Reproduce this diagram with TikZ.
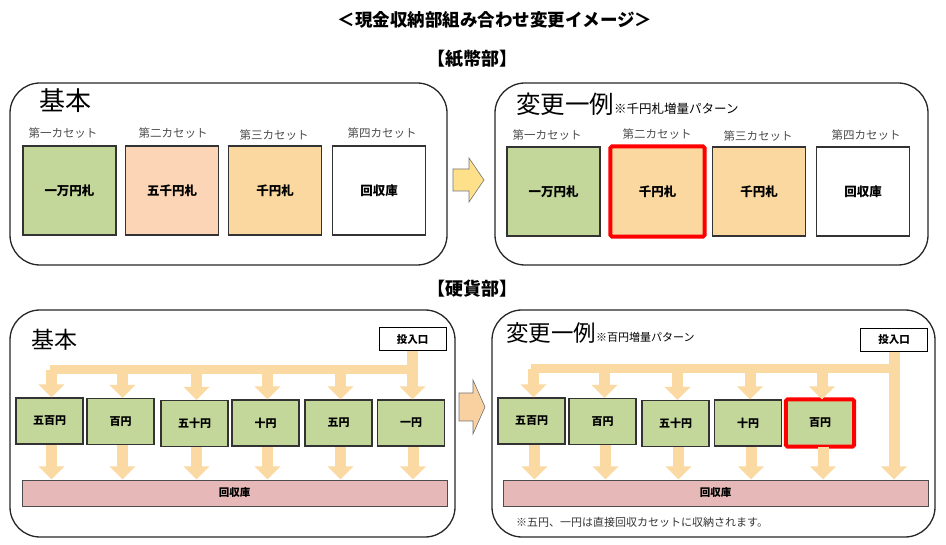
\documentclass[tikz,border=0pt]{standalone}
\usepackage{fontspec}
\setmainfont{Noto Sans CJK JP}
\usetikzlibrary{arrows.meta}
\definecolor{grn}{HTML}{C4D79B}
\definecolor{peach}{HTML}{FBD5B5}
\definecolor{sen}{HTML}{FAD8A0}
\definecolor{pink}{HTML}{E6B8B7}
\definecolor{flowc}{HTML}{FAD9A2}
\definecolor{arrY}{HTML}{FFE08A}
\definecolor{arrO}{HTML}{F9D0A0}
\definecolor{redb}{HTML}{FF0000}
\newcommand{\fs}[1]{\fontsize{#1}{#1}\selectfont}
\begin{document}
\begin{tikzpicture}[x=1pt,y=-1pt,
  panel/.style={draw=black!85, line width=1.3pt, rounded corners=30pt},
  bill/.style={draw=black!80, line width=1.1pt, minimum width=93pt, minimum height=89pt, inner sep=0pt, font=\bfseries\fs{12.5}},
  redbox/.style={draw=redb, line width=4pt, rounded corners=1.5pt},
  slot/.style={font=\fs{11.5}, text=black!70, inner sep=0pt},
  coin/.style={draw=black!80, line width=1.1pt, fill=grn, minimum width=67pt, minimum height=46pt, inner sep=0pt, font=\bfseries\fs{11}},
  inlet/.style={draw=black, line width=1pt, fill=white, minimum width=67pt, minimum height=23pt, inner sep=0pt, font=\bfseries\fs{10.5}},
  coll/.style={draw=black!70, line width=1pt, fill=pink, minimum width=425pt, minimum height=26pt, inner sep=0pt, font=\bfseries\fs{10.5}},
  flow/.style={draw=flowc, line width=11pt, -{Triangle[width=25pt,length=13pt]}},
  trunk/.style={draw=flowc, line width=9pt},
  heading/.style={font=\bfseries\fs{18}, inner sep=0pt}
]
\useasboundingbox (0,0) rectangle (946,545);

% headings
\node[heading, font=\bfseries\fs{17.5}] (title) at (495,20) {＜現金収納部組み合わせ変更イメージ＞};
\node[heading] (shihei) at (472,59) {【紙幣部】};
\node[heading] (kouka) at (472,289) {【硬貨部】};

% ===== bills =====
\draw[panel] (10,83) rectangle (447,265);
\draw[panel] (495,83) rectangle (928,265);

\node[anchor=west, inner sep=0pt, font=\fs{26}] (kihon1) at (39,101) {基本};
\node[slot] (l1) at (63,133) {第一カセット};
\node[slot] (l2) at (173,133) {第二カセット};
\node[slot] (l3) at (274,135) {第三カセット};
\node[slot] (l4) at (382,133) {第四カセット};
\node[bill, fill=grn] (b1) at (69.5,190.5) {一万円札};
\node[bill, fill=peach] (b2) at (172,190.5) {五千円札};
\node[bill, fill=sen] (b3) at (275,190.5) {千円札};
\node[bill, fill=white] (b4) at (379,190.5) {回収庫};

\node[anchor=base west, inner sep=0pt] (henko1) at (516,114) {\fs{24.5}変更一例\fs{12.5}※千円札増量パターン};
\node[slot] (r1) at (547,135) {第一カセット};
\node[slot] (r2) at (657,134) {第二カセット};
\node[slot] (r3) at (758,136) {第三カセット};
\node[slot] (r4) at (866,135) {第四カセット};
\node[bill, fill=grn] (rb1) at (553.5,191.5) {一万円札};
\node[bill, fill=sen, draw=none] (rb2) at (657.5,191.5) {千円札};
\draw[redbox] (rb2.north west) rectangle (rb2.south east);
\node[bill, fill=sen] (rb3) at (759,191.5) {千円札};
\node[bill, fill=white] (rb4) at (863,191.5) {回収庫};

% transition arrow (bills)
\draw[fill=arrY, draw=black!55, line width=0.6pt] (453,169) -- (469,169) -- (469,158) -- (484,180) -- (469,202) -- (469,191) -- (453,191) -- cycle;

% ===== coins =====
\draw[panel] (10,310) rectangle (455,537);
\draw[panel] (492,310) rectangle (935,537);

\node[anchor=west, inner sep=0pt, font=\fs{23}] (kihon2) at (31,340) {基本};
\node[inlet] (inL) at (412.5,339.5) {投入口};
\node[coin] (c1) at (49.5,421) {五百円};
\node[coin] (c2) at (120.5,421.5) {百円};
\node[coin] (c3) at (194.5,423.5) {五十円};
\node[coin] (c4) at (265.5,423) {十円};
\node[coin] (c5) at (338.5,423) {五円};
\node[coin] (c6) at (411,423) {一円};
\node[coll] (rkL) at (234.5,493) {回収庫};

\coordinate (barLa) at (50,370);
\coordinate (barLb) at (418,370);
\draw[trunk] (barLa) -- (barLb);
\draw[flow] (inL.south) -- (inL.south |- c6.north);
\foreach \n in {c1,c2,c3,c4,c5} {
  \draw[flow] ([xshift=2pt]\n.north |- barLa) -- ([xshift=2pt]\n.north);
}
\foreach \n in {c1,c2,c3,c4,c5,c6} {
  \draw[flow] ([xshift=2pt]\n.south) -- ([xshift=2pt]\n.south |- rkL.north);
}

\node[anchor=base west, inner sep=0pt] (henko2) at (506,342) {\fs{22.5}変更一例\fs{11}※百円増量パターン};
\node[inlet] (inR) at (894,340) {投入口};
\node[coin] (d1) at (531.5,421) {五百円};
\node[coin] (d2) at (602.5,421.5) {百円};
\node[coin] (d3) at (675.5,423.5) {五十円};
\node[coin] (d4) at (748,423) {十円};
\node[coin, draw=none] (d5) at (820,423) {百円};
\draw[redbox] (d5.north west) rectangle (d5.south east);
\node[coll] (rkR) at (715.5,493) {回収庫};

\coordinate (barRa) at (531,369);
\coordinate (barRb) at (899,369);
\draw[trunk] (barRa) -- (barRb);
\draw[flow] (inR.south) -- (inR.south |- rkR.north);
\foreach \n in {d1,d2,d3,d4,d5} {
  \draw[flow] ([xshift=2pt]\n.north |- barRa) -- ([xshift=2pt]\n.north);
}
\foreach \n in {d1,d2,d3,d4,d5} {
  \draw[flow] ([xshift=3pt]\n.south) -- ([xshift=3pt]\n.south |- rkR.north);
}
\node[anchor=west, inner sep=0pt, font=\fs{11}, text=black!80] (note) at (516,522) {※五円、一円は直接回収カセットに収納されます。};

% transition arrow (coins)
\draw[fill=arrO, draw=black!55, line width=0.6pt] (459,393) -- (473,393) -- (473,380) -- (485,407) -- (473,434) -- (473,421) -- (459,421) -- cycle;
\end{tikzpicture}
\end{document}
